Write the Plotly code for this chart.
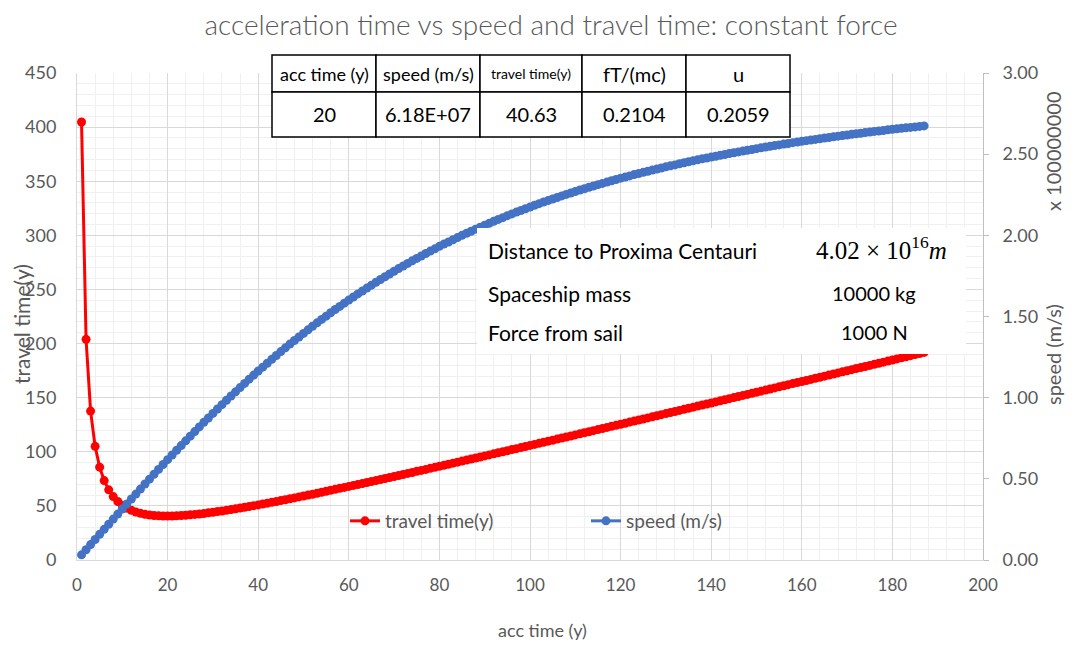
import plotly.graph_objects as go

# acceleration time (years)
acc_time = [
    1, 2, 3, 4, 5, 6, 7, 8, 9, 10, 11, 12, 13, 14, 15, 16, 17, 18, 19, 20,
    21, 22, 23, 24, 25, 26, 27, 28, 29, 30, 31, 32, 33, 34, 35, 36, 37, 38, 39, 40,
    41, 42, 43, 44, 45, 46, 47, 48, 49, 50, 51, 52, 53, 54, 55, 56, 57, 58, 59, 60,
    61, 62, 63, 64, 65, 66, 67, 68, 69, 70, 71, 72, 73, 74, 75, 76, 77, 78, 79, 80,
    81, 82, 83, 84, 85, 86, 87, 88, 89, 90, 91, 92, 93, 94, 95, 96, 97, 98, 99, 100,
    101, 102, 103, 104, 105, 106, 107, 108, 109, 110, 111, 112, 113, 114, 115, 116, 117, 118, 119, 120,
    121, 122, 123, 124, 125, 126, 127, 128, 129, 130, 131, 132, 133, 134, 135, 136, 137, 138, 139, 140,
    141, 142, 143, 144, 145, 146, 147, 148, 149, 150, 151, 152, 153, 154, 155, 156, 157, 158, 159, 160,
    161, 162, 163, 164, 165, 166, 167, 168, 169, 170, 171, 172, 173, 174, 175, 176, 177, 178, 179, 180,
    181, 182, 183, 184, 185, 186, 187,
]

# travel time (years)
travel_time = [
    404.7, 203.9, 137.6, 105.0, 85.8, 73.4, 64.8, 58.6, 54.1, 50.6,
    47.9, 45.9, 44.3, 43.1, 42.2, 41.6, 41.1, 40.8, 40.7, 40.6,
    40.7, 40.8, 41.1, 41.3, 41.7, 42.1, 42.5, 43.0, 43.6, 44.1,
    44.7, 45.3, 45.9, 46.6, 47.3, 48.0, 48.7, 49.4, 50.2, 50.9,
    51.7, 52.5, 53.3, 54.1, 54.9, 55.7, 56.6, 57.4, 58.3, 59.1,
    60.0, 60.8, 61.7, 62.6, 63.5, 64.4, 65.3, 66.2, 67.1, 68.0,
    68.9, 69.8, 70.7, 71.6, 72.5, 73.4, 74.4, 75.3, 76.2, 77.2,
    78.1, 79.0, 80.0, 80.9, 81.9, 82.8, 83.7, 84.7, 85.6, 86.6,
    87.5, 88.5, 89.5, 90.4, 91.4, 92.3, 93.3, 94.3, 95.2, 96.2,
    97.1, 98.1, 99.1, 100.0, 101.0, 102.0, 102.9, 103.9, 104.9, 105.9,
    106.8, 107.8, 108.8, 109.8, 110.7, 111.7, 112.7, 113.7, 114.6, 115.6,
    116.6, 117.6, 118.5, 119.5, 120.5, 121.5, 122.5, 123.5, 124.4, 125.4,
    126.4, 127.4, 128.4, 129.4, 130.3, 131.3, 132.3, 133.3, 134.3, 135.3,
    136.2, 137.2, 138.2, 139.2, 140.2, 141.2, 142.2, 143.2, 144.1, 145.1,
    146.1, 147.1, 148.1, 149.1, 150.1, 151.1, 152.1, 153.0, 154.0, 155.0,
    156.0, 157.0, 158.0, 159.0, 160.0, 161.0, 162.0, 163.0, 163.9, 164.9,
    165.9, 166.9, 167.9, 168.9, 169.9, 170.9, 171.9, 172.9, 173.9, 174.9,
    175.9, 176.9, 177.8, 178.8, 179.8, 180.8, 181.8, 182.8, 183.8, 184.8,
    185.8, 186.8, 187.8, 188.8, 189.8, 190.8, 191.8,
]

# speed in units of 100000000 m/s (right axis display unit)
speed = [
    0.032, 0.063, 0.095, 0.126, 0.158, 0.189, 0.220, 0.252, 0.283, 0.314,
    0.345, 0.376, 0.406, 0.437, 0.468, 0.498, 0.528, 0.558, 0.588, 0.618,
    0.647, 0.676, 0.705, 0.734, 0.763, 0.791, 0.820, 0.848, 0.875, 0.903,
    0.930, 0.957, 0.984, 1.010, 1.036, 1.062, 1.088, 1.114, 1.139, 1.164,
    1.188, 1.212, 1.236, 1.260, 1.284, 1.307, 1.330, 1.352, 1.374, 1.396,
    1.418, 1.440, 1.461, 1.482, 1.502, 1.523, 1.543, 1.562, 1.582, 1.601,
    1.620, 1.639, 1.657, 1.675, 1.693, 1.711, 1.728, 1.745, 1.762, 1.779,
    1.795, 1.811, 1.827, 1.843, 1.858, 1.873, 1.888, 1.903, 1.917, 1.932,
    1.946, 1.959, 1.973, 1.986, 2.000, 2.013, 2.025, 2.038, 2.050, 2.062,
    2.074, 2.086, 2.098, 2.109, 2.121, 2.132, 2.143, 2.153, 2.164, 2.174,
    2.185, 2.195, 2.205, 2.214, 2.224, 2.233, 2.243, 2.252, 2.261, 2.270,
    2.279, 2.287, 2.296, 2.304, 2.312, 2.320, 2.328, 2.336, 2.344, 2.352,
    2.359, 2.366, 2.374, 2.381, 2.388, 2.395, 2.402, 2.408, 2.415, 2.422,
    2.428, 2.434, 2.441, 2.447, 2.453, 2.459, 2.465, 2.471, 2.476, 2.482,
    2.487, 2.493, 2.498, 2.504, 2.509, 2.514, 2.519, 2.524, 2.529, 2.534,
    2.539, 2.544, 2.548, 2.553, 2.557, 2.562, 2.566, 2.571, 2.575, 2.579,
    2.583, 2.587, 2.591, 2.595, 2.599, 2.603, 2.607, 2.611, 2.615, 2.618,
    2.622, 2.626, 2.629, 2.633, 2.636, 2.640, 2.643, 2.646, 2.650, 2.653,
    2.656, 2.659, 2.662, 2.665, 2.668, 2.671, 2.674,
]

table_headers = ["acc time (y)", "speed (m/s)", "travel time(y)", "fT/(mc)", "u"]
table_header_sizes = [18, 18, 14, 20, 20]
table_values = ["20", "6.18E+07", "40.63", "0.2104", "0.2059"]

info_labels = ["Distance to Proxima Centauri", "Spaceship mass", "Force from sail"]
info_values = ["4.02 × 10<sup>16</sup><i>m</i>", "10000 kg", "1000 N"]

# the page body adds an 8px margin on every side; keep the figure inside the
# window (no scrollbars) and shift every reference pixel position by OFF
OFF = 8
VW, VH = 1074, 651
W, H = VW - 2 * OFF, VH - 2 * OFF
PL, PR, PT, PB = 77, 983, 73, 560
GRAY = "#595959"
FONT = "Lato"


def fx(px):
    return (px - PL) / (PR - PL)


def fy(py):
    return (PB - py) / (PB - PT)


fig = go.Figure()

fig.add_trace(go.Scatter(
    x=acc_time, y=travel_time, name="travel time(y)", mode="lines+markers",
    line=dict(color="#FF0000", width=3), marker=dict(color="#FF0000", size=9),
))
fig.add_trace(go.Scatter(
    x=acc_time, y=speed, name="speed (m/s)", mode="lines+markers", yaxis="y2",
    line=dict(color="#4472C4", width=3), marker=dict(color="#4472C4", size=9),
))

shapes = []
annotations = []


def label(text, px, py, size, color="#000000", family=FONT, xanchor="center", angle=0):
    annotations.append(dict(
        text=text, x=fx(px), y=fy(py), xref="paper", yref="paper",
        xanchor=xanchor, yanchor="middle", showarrow=False, textangle=angle,
        font=dict(family=family, size=size, color=color),
    ))


# data table on top of the chart
col_edges = [272, 376, 480, 582, 686, 790]
row_edges = [55, 92, 137]
for i in range(len(table_headers)):
    for r in range(2):
        shapes.append(dict(
            type="rect", xref="paper", yref="paper", layer="above",
            x0=fx(col_edges[i]), x1=fx(col_edges[i + 1]),
            y0=fy(row_edges[r + 1]), y1=fy(row_edges[r]),
            line=dict(color="#000000", width=1.5), fillcolor="white",
        ))
    cx = (col_edges[i] + col_edges[i + 1]) / 2
    label(table_headers[i], cx, (row_edges[0] + row_edges[1]) / 2, table_header_sizes[i])
    label(table_values[i], cx, (row_edges[1] + row_edges[2]) / 2, 20)

# info box
shapes.append(dict(
    type="rect", xref="paper", yref="paper", layer="above",
    x0=fx(477), x1=fx(966), y0=fy(354), y1=fy(228),
    line=dict(width=0), fillcolor="white",
))
info_rows = [250, 293, 332]
for lab, val, ry in zip(info_labels, info_values, info_rows):
    label(lab, 486, ry, 21, xanchor="left")
    if "×" in val:
        label(val, 881, ry - 2, 25, family="Liberation Serif")
    else:
        label(val, 874, ry, 20)

# axis titles and display-unit label
label("acc time (y)", 542, 630, 18, color=GRAY)
label("travel time(y)", 21, 324, 21, color=GRAY, angle=-90)
label("speed (m/s)", 1053, 355, 20, color=GRAY, angle=-90)
label("x 100000000", 1053, 152, 20, color=GRAY, angle=-90)

fig.update_layout(
    width=W, height=H,
    margin=dict(l=PL - OFF, r=W + OFF - PR, t=PT - OFF, b=H + OFF - PB),
    plot_bgcolor="white", paper_bgcolor="white",
    font=dict(family=FONT, color=GRAY, size=16),
    title=dict(
        text="acceleration time vs speed and travel time: constant force",
        x=(551 - OFF) / W, xanchor="center",
        y=1 - (25 - OFF) / H, yanchor="middle",
        font=dict(family=FONT, size=28, color=GRAY, weight=300),
    ),
    xaxis=dict(
        range=[0, 200], dtick=20, showgrid=True, gridcolor="#d9d9d9",
        minor=dict(dtick=4, showgrid=True, gridcolor="#f0f0f0"),
        showline=True, linecolor="#d9d9d9", zeroline=False,
        ticks="", ticklabelstandoff=10, tickfont=dict(size=17, color=GRAY),
    ),
    yaxis=dict(
        range=[0, 450], dtick=50, showgrid=True, gridcolor="#d9d9d9",
        minor=dict(dtick=10, showgrid=True, gridcolor="#f0f0f0"),
        showline=True, linecolor="#d9d9d9", zeroline=False,
        ticks="", ticklabelstandoff=16, tickfont=dict(size=18, color=GRAY),
    ),
    yaxis2=dict(
        range=[0, 3], dtick=0.5, tickformat=".2f", overlaying="y", side="right",
        showgrid=False, zeroline=False, showline=True, linecolor="#bfbfbf",
        ticks="outside", ticklen=5, tickcolor="#bfbfbf", ticklabelstandoff=10,
        tickfont=dict(size=18, color=GRAY),
    ),
    legend=dict(
        orientation="h", x=fx(345), xanchor="left", y=fy(521), yanchor="middle",
        bgcolor="rgba(0,0,0,0)", font=dict(size=19, color=GRAY),
        entrywidth=196, entrywidthmode="pixels",
    ),
    shapes=shapes,
    annotations=annotations,
)

fig.write_html("out.html")
